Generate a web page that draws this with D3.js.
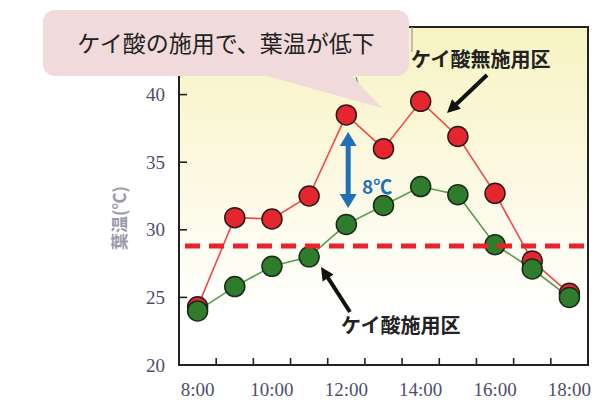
<!DOCTYPE html>
<html><head><meta charset="utf-8">
<script src="https://cdn.jsdelivr.net/npm/d3@7"></script>
<style>html,body{margin:0;padding:0;background:#fff;}svg{display:block;}</style>
</head><body>
<svg id="c" width="604" height="415"></svg>
<script>
const hours = [8,9,10,11,12,13,14,15,16,17,18];
const noSilica = [24.3,30.9,30.8,32.5,38.5,36.0,39.5,36.9,32.7,27.7,25.3];
const silica   = [24.0,25.8,27.3,28.0,30.4,31.8,33.2,32.6,28.9,27.1,25.0];
const threshold = 28.8;
const yTicks = [20,25,30,35,40];
const xTickMarks = [8.5,9.5,10.5,11.5,12.5,13.5,14.5,15.5,16.5,17.5];
const xLabels = [8,10,12,14,16,18];
const xLabelText = ["8:00","10:00","12:00","14:00","16:00","18:00"];
const yTitle = "葉温(℃)";
const calloutText = "ケイ酸の施用で、葉温が低下";
const labelNo = "ケイ酸無施用区";
const labelYes = "ケイ酸施用区";
const diffText = "8℃";

const svg = d3.select("#c");
const L = 179, R = 588, T = 27, B = 365;
const x = d3.scaleLinear().domain([7.5,18.5]).range([L,R]);
const y = d3.scaleLinear().domain([20,45]).range([B,T]);

const defs = svg.append("defs");
const g = defs.append("linearGradient").attr("id","bg").attr("x1",0).attr("y1",0).attr("x2",0).attr("y2",1);
g.append("stop").attr("offset","0%").attr("stop-color","#f8f3c2");
g.append("stop").attr("offset","85%").attr("stop-color","#ffffff");

svg.append("rect").attr("x",L).attr("y",T).attr("width",R-L).attr("height",B-T).attr("fill","url(#bg)");

// ticks
const tickCol = "#222";
svg.append("g").selectAll("line").data(yTicks.filter(d=>d>20)).join("line")
  .attr("x1",L).attr("x2",L+8).attr("y1",d=>y(d)).attr("y2",d=>y(d))
  .attr("stroke",tickCol).attr("stroke-width",1.6);
svg.append("g").selectAll("line").data(xTickMarks).join("line")
  .attr("x1",d=>x(d)).attr("x2",d=>x(d)).attr("y1",B).attr("y2",B-7)
  .attr("stroke",tickCol).attr("stroke-width",1.6);

// frame
svg.append("rect").attr("x",L).attr("y",T).attr("width",R-L).attr("height",B-T)
  .attr("fill","none").attr("stroke","#222").attr("stroke-width",2);

// tick labels
const serif = "'Liberation Serif','DejaVu Serif',serif";
svg.append("g").selectAll("text").data(yTicks).join("text")
  .attr("x",165).attr("y",d=>y(d)).attr("dy","0.35em").attr("text-anchor","end")
  .attr("font-family",serif).attr("font-size",19).attr("fill","#4e4e6e").text(d=>d);
svg.append("g").selectAll("text").data(xLabels).join("text")
  .attr("x",d=>x(d)).attr("y",396).attr("text-anchor","middle")
  .attr("font-family",serif).attr("font-size",19).attr("fill","#4e4e6e")
  .text((d,i)=>xLabelText[i]);

// y title
const jp = "'Noto Sans CJK JP','Noto Sans CJK SC',sans-serif";
svg.append("text").attr("transform","translate(126,218) rotate(-90)")
  .attr("text-anchor","middle").attr("font-family",jp).attr("font-weight","bold")
  .attr("font-size",17).attr("fill","#9a9aa6").text(yTitle);

// lines
const line = d3.line().x((d,i)=>x(hours[i])).y(d=>y(d));
svg.append("path").datum(noSilica).attr("d",line).attr("fill","none").attr("stroke","#ee4b4b").attr("stroke-width",1.6);
svg.append("path").datum(silica).attr("d",line).attr("fill","none").attr("stroke","#5a9a50").attr("stroke-width",1.6);

// markers
svg.append("g").selectAll("circle").data(noSilica).join("circle")
  .attr("cx",(d,i)=>x(hours[i])).attr("cy",d=>y(d)).attr("r",10)
  .attr("fill","#e5262f").attr("stroke","#2a1a1a").attr("stroke-width",1.5);
svg.append("g").selectAll("circle").data(silica).join("circle")
  .attr("cx",(d,i)=>x(hours[i])).attr("cy",d=>y(d)).attr("r",10)
  .attr("fill","#2f7d2c").attr("stroke","#1a2a1a").attr("stroke-width",1.5);

// threshold dashed line
svg.append("line").attr("x1",185).attr("x2",R).attr("y1",y(threshold)).attr("y2",y(threshold))
  .attr("stroke","#e8232b").attr("stroke-width",5).attr("stroke-dasharray","15,9");

// arrow helper
function arrow(x1,y1,x2,y2,w,hl,hw,col,both){
  const dx=x2-x1, dy=y2-y1, len=Math.hypot(dx,dy), ux=dx/len, uy=dy/len, px=-uy, py=ux;
  const sx = both ? x1+ux*hl : x1, sy = both ? y1+uy*hl : y1;
  svg.append("line").attr("x1",sx).attr("y1",sy).attr("x2",x2-ux*hl*0.9).attr("y2",y2-uy*hl*0.9)
    .attr("stroke",col).attr("stroke-width",w);
  const head=(tx,ty,vx,vy)=>{
    const bx=tx-vx*hl, by=ty-vy*hl;
    svg.append("path").attr("d",`M${tx},${ty}L${bx+px*hw/2},${by+py*hw/2}L${bx-px*hw/2},${by-py*hw/2}Z`).attr("fill",col);
  };
  head(x2,y2,ux,uy);
  if(both) head(x1,y1,-ux,-uy);
}
arrow(487,75,447,113,4,13,13,"#111",false);
arrow(350,312,321,267,4,13,13,"#111",false);
arrow(x(12.05),132,x(12.05),208,5,14,17,"#1f6fba",true);

// labels
svg.append("text").attr("x",411).attr("y",67).attr("font-family",jp).attr("font-weight","bold")
  .attr("font-size",20).attr("fill","#222").text(labelNo);
svg.append("text").attr("x",341).attr("y",333).attr("font-family",jp).attr("font-weight","bold")
  .attr("font-size",20).attr("fill","#222").text(labelYes);
svg.append("text").attr("x",362).attr("y",194).attr("font-family",jp).attr("font-weight","bold")
  .attr("font-size",19).attr("fill","#1f6fba").text(diffText);

// hidden-bubble remnants
svg.append("line").attr("x1",412).attr("x2",412).attr("y1",27).attr("y2",52).attr("stroke","#999").attr("stroke-width",1.2);
svg.append("path").attr("d","M356,77 Q358,88 366,95").attr("fill","none").attr("stroke","#777").attr("stroke-width",1.2);

// callout
svg.append("path").attr("d","M260,74 L350,74 L382,108 Z").attr("fill","#f0dadb");
svg.append("rect").attr("x",43).attr("y",10).attr("width",366).attr("height",66).attr("rx",12).attr("fill","#f0dadb");
svg.append("text").attr("x",226).attr("y",52).attr("text-anchor","middle").attr("font-family",jp)
  .attr("font-size",23).attr("fill","#222").text(calloutText);
</script>
</body></html>
